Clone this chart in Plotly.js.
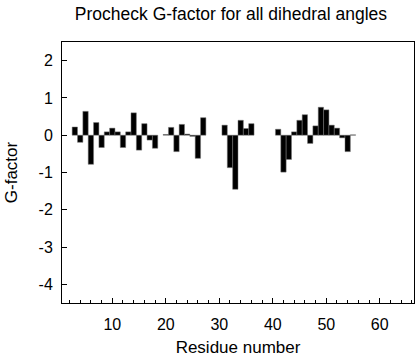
<!DOCTYPE html>
<html>
<head>
<meta charset="utf-8">
<script src="https://cdn.plot.ly/plotly-3.0.1.min.js"></script>
<style>html,body{margin:0;padding:0;background:#fff;}#chart{width:416px;height:360px;}</style>
</head>
<body>
<div id="chart"></div>
<script>
// Residue numbers and G-factor values (null = no value drawn)
var residues = [3,4,5,6,7,8,9,10,11,12,13,14,15,16,17,18,19,20,21,22,23,24,25,26,27,28,29,30,31,32,33,34,35,36,37,38,39,40,41,42,43,44,45,46,47,48,49,50,51,52,53,54,55];
var gfactor = [0.22,-0.19,0.64,-0.78,0.34,-0.33,0.09,0.19,0.09,-0.33,0.09,0.60,-0.40,0.31,-0.13,-0.35,null,0.02,0.21,-0.44,0.29,0.03,-0.03,-0.62,0.47,null,null,null,0.27,-0.87,-1.45,0.40,0.18,0.31,null,null,null,null,0.16,-0.99,-0.65,0.09,0.40,0.55,-0.22,0.25,0.75,0.68,0.27,0.19,-0.07,-0.44,0.01];
var xTickVals = [10,20,30,40,50,60];
var yTickVals = [-4,-3,-2,-1,0,1,2];

var font = "Liberation Sans, Arial, Helvetica, sans-serif";
var data = [{
  type: 'bar',
  x: residues,
  y: gfactor,
  marker: {color: '#000000', line: {color: '#777777', width: 0.5}},
  hoverinfo: 'x+y'
}];
var layout = {
  width: 416, height: 360,
  margin: {l: 62, r: 2, t: 42, b: 57},
  paper_bgcolor: '#ffffff', plot_bgcolor: '#ffffff',
  showlegend: false,
  bargap: 0,
  font: {family: font, color: '#000', size: 16},
  title: {text: 'Procheck G-factor for all dihedral angles', font: {family: font, size: 17.5, color: '#000'}, xref: 'paper', x: 0.48, xanchor: 'center', y: 0.962, yanchor: 'middle'},
  xaxis: {
    range: [0.6, 66.4],
    tickvals: xTickVals,
    ticktext: xTickVals.map(String),
    ticks: 'inside', ticklen: 5, tickcolor: '#000', tickwidth: 1,
    minor: {dtick: 2, tick0: 0, ticks: 'inside', ticklen: 3, tickcolor: '#000'},
    showline: true, linecolor: '#000', linewidth: 1, mirror: true,
    showgrid: false, zeroline: false,
    ticklabelstandoff: 7,
    tickfont: {family: font, size: 16, color: '#000'},
    title: {text: 'Residue number', font: {family: font, size: 17, color: '#000'}, standoff: 8}
  },
  yaxis: {
    range: [-4.5, 2.5],
    tickvals: yTickVals,
    ticktext: yTickVals.map(String),
    ticks: 'inside', ticklen: 5, tickcolor: '#000', tickwidth: 1,
    showline: true, linecolor: '#000', linewidth: 1, mirror: true,
    showgrid: false, zeroline: false,
    ticklabelstandoff: 5,
    tickfont: {family: font, size: 16, color: '#000'},
    title: {text: 'G-factor', font: {family: font, size: 17, color: '#000'}, standoff: 16}
  }
};
Plotly.newPlot('chart', data, layout, {staticPlot: true, displayModeBar: false});
</script>
</body>
</html>
